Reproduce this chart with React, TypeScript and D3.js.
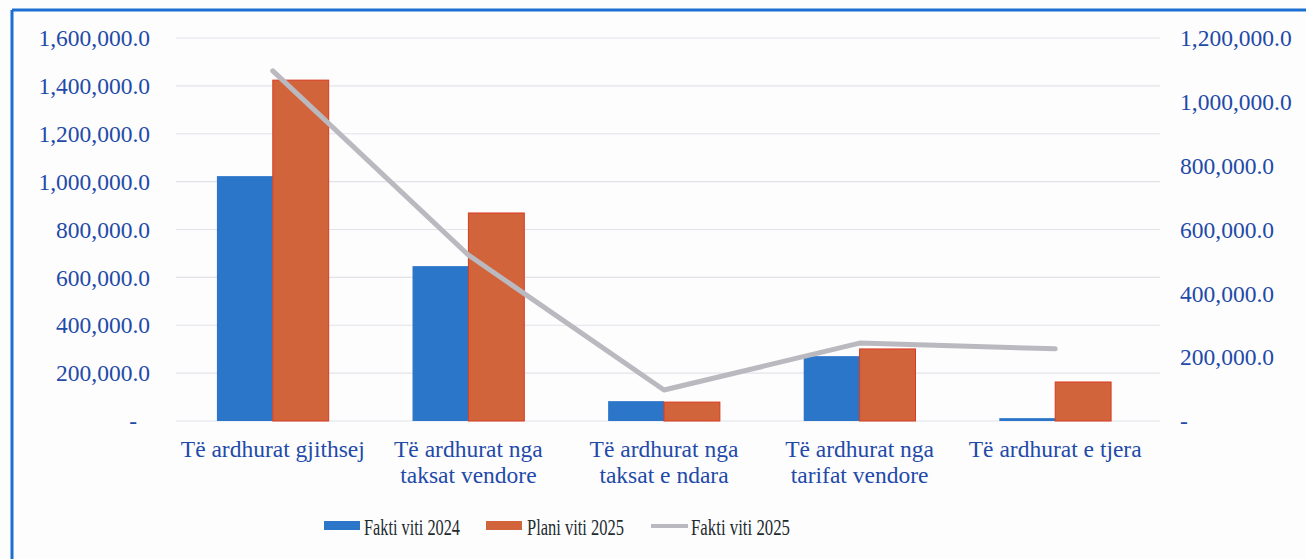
import React from "react";
import * as d3 from "d3";

const categories: string[][] = [
  ["Të ardhurat gjithsej"],
  ["Të ardhurat nga", "taksat vendore"],
  ["Të ardhurat nga", "taksat e ndara"],
  ["Të ardhurat nga", "tarifat vendore"],
  ["Të ardhurat e tjera"],
];
const fakti2024: number[] = [1023000, 647000, 83000, 271000, 12000];
const plani2025: number[] = [1424000, 869000, 79000, 301000, 163000];
const fakti2025: number[] = [1097000, 520000, 97000, 244000, 226000];
const leftTicks: number[] = [0, 200000, 400000, 600000, 800000, 1000000, 1200000, 1400000, 1600000];
const rightTicks: number[] = [0, 200000, 400000, 600000, 800000, 1000000, 1200000];
const seriesNames: string[] = ["Fakti viti 2024", "Plani viti 2025", "Fakti viti 2025"];

const W = 1306;
const H = 559;
const FONT = "'Liberation Serif', 'DejaVu Serif', 'Times New Roman', serif";
const BLUE = "#2c76c9";
const ORANGE = "#d2643c";
const GRAY = "#b9b9bf";
const TXT = "#1f4aa8";

export default function App() {
  const keys = categories.map((c) => c.join(" "));
  const x0 = d3.scaleBand<string>().domain(keys).range([175, 1153]).padding(0);
  const x1 = d3
    .scaleBand<string>()
    .domain(["a", "b"])
    .range([0, x0.step()])
    .paddingInner(0)
    .paddingOuter(0.75);
  const yL = d3.scaleLinear().domain([0, 1600000]).range([421, 38]);
  const yR = d3.scaleLinear().domain([0, 1200000]).range([421, 38]);
  const fmt = (v: number) => (v === 0 ? "-" : d3.format(",.1f")(v));
  const cx = (i: number) => (x0(keys[i]) as number) + x0.step() / 2;
  const line = d3
    .line<number>()
    .x((_, i) => cx(i))
    .y((d) => yR(d));
  const ts = { fontFamily: FONT } as React.CSSProperties;
  const FS = 23.5;

  return (
    <svg
      width={W}
      height={H}
      style={{ position: "absolute", left: 0, top: 0, background: "#fdfdfe", fontFamily: FONT }}
    >
      <rect x={0} y={0} width={W} height={H} fill="#fdfdfe" />
      {/* border */}
      <line x1={12} y1={10} x2={12} y2={H} stroke="#1c6fd2" strokeWidth={3} />
      <line x1={12} y1={10} x2={W} y2={10} stroke="#1c6fd2" strokeWidth={3} />

      {/* gridlines */}
      {leftTicks.map((t) => (
        <line key={"g" + t} x1={176} x2={1160} y1={yL(t)} y2={yL(t)} stroke="#e2e3ea" strokeWidth={1.2} />
      ))}

      {/* left axis labels */}
      {leftTicks.map((t) => (
        <text
          key={"l" + t}
          x={t === 0 ? 137 : 150}
          y={yL(t)}
          dy="0.35em"
          textAnchor="end"
          fontSize={FS}
          fill={TXT}
          style={ts}
        >
          {fmt(t)}
        </text>
      ))}

      {/* right axis labels */}
      {rightTicks.map((t) => (
        <text key={"r" + t} x={1180} y={yR(t)} dy="0.35em" textAnchor="start" fontSize={FS} fill={TXT} style={ts}>
          {fmt(t)}
        </text>
      ))}

      {/* bars */}
      {keys.map((k, i) => (
        <g key={"b" + k} transform={`translate(${x0(k)},0)`}>
          <rect
            x={x1("a")}
            y={yL(fakti2024[i])}
            width={x1.bandwidth()}
            height={yL(0) - yL(fakti2024[i])}
            fill={BLUE}
          />
          <rect
            x={x1("b")}
            y={yL(plani2025[i])}
            width={x1.bandwidth()}
            height={yL(0) - yL(plani2025[i])}
            fill={ORANGE}
            stroke="#d83a20"
            strokeWidth={1}
          />
        </g>
      ))}

      {/* line */}
      <path
        d={line(fakti2025) || ""}
        fill="none"
        stroke={GRAY}
        strokeWidth={5}
        strokeLinecap="round"
        strokeLinejoin="round"
      />

      {/* category labels */}
      {categories.map((lines, i) => (
        <text key={"c" + i} x={cx(i)} y={457} textAnchor="middle" fontSize={FS} fill={TXT} style={ts}>
          {lines.map((ln, j) => (
            <tspan key={j} x={cx(i)} dy={j === 0 ? 0 : 26}>
              {ln}
            </tspan>
          ))}
        </text>
      ))}

      {/* legend */}
      <rect x={324} y={521} width={36} height={9} fill={BLUE} />
      <text x={364} y={535} fontSize={24} fill="#1d2b2e" textLength={96} lengthAdjust="spacingAndGlyphs" style={ts}>
        {seriesNames[0]}
      </text>
      <rect x={486} y={521} width={36} height={9} fill={ORANGE} />
      <text x={527} y={535} fontSize={24} fill="#1d2b2e" textLength={97} lengthAdjust="spacingAndGlyphs" style={ts}>
        {seriesNames[1]}
      </text>
      <line x1={651} x2={688} y1={526} y2={526} stroke={GRAY} strokeWidth={4} />
      <text x={691} y={535} fontSize={24} fill="#1d2b2e" textLength={99} lengthAdjust="spacingAndGlyphs" style={ts}>
        {seriesNames[2]}
      </text>
    </svg>
  );
}
